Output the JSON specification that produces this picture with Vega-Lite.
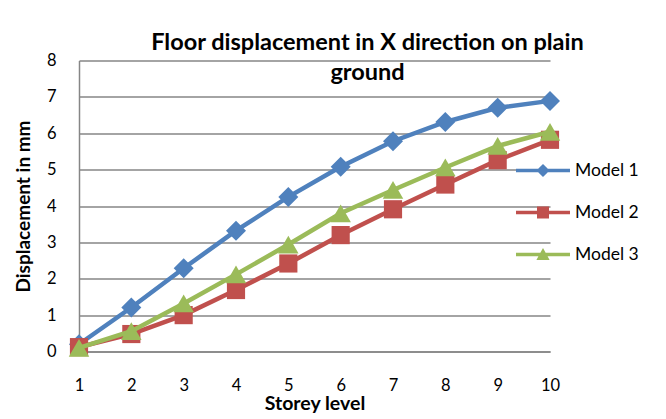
{
  "$schema": "https://vega.github.io/schema/vega-lite/v6.json",
  "width": 471,
  "height": 291,
  "autosize": {"type": "none"},
  "padding": {"left": 79, "top": 60.5, "right": 116, "bottom": 67.5},
  "background": "white",
  "config": {
    "font": "Lato",
    "view": {"stroke": null},
    "axis": {"labelFont": "Lato", "titleFont": "Lato", "labelColor": "black", "titleColor": "black"}
  },
  "title": {
    "text": ["Floor displacement in X direction on plain", "ground"],
    "font": "Lato",
    "fontSize": 23.5,
    "fontWeight": "bold",
    "color": "black",
    "lineHeight": 30,
    "anchor": "middle",
    "dx": 53,
    "offset": -32
  },
  "data": {
    "values": [
      {"storey": 1, "model": "Model 1", "disp": 0.2},
      {"storey": 2, "model": "Model 1", "disp": 1.21},
      {"storey": 3, "model": "Model 1", "disp": 2.29},
      {"storey": 4, "model": "Model 1", "disp": 3.32},
      {"storey": 5, "model": "Model 1", "disp": 4.25},
      {"storey": 6, "model": "Model 1", "disp": 5.08},
      {"storey": 7, "model": "Model 1", "disp": 5.78},
      {"storey": 8, "model": "Model 1", "disp": 6.31},
      {"storey": 9, "model": "Model 1", "disp": 6.7},
      {"storey": 10, "model": "Model 1", "disp": 6.89},
      {"storey": 1, "model": "Model 2", "disp": 0.12},
      {"storey": 2, "model": "Model 2", "disp": 0.48},
      {"storey": 3, "model": "Model 2", "disp": 1.0},
      {"storey": 4, "model": "Model 2", "disp": 1.69},
      {"storey": 5, "model": "Model 2", "disp": 2.42},
      {"storey": 6, "model": "Model 2", "disp": 3.2},
      {"storey": 7, "model": "Model 2", "disp": 3.91},
      {"storey": 8, "model": "Model 2", "disp": 4.59},
      {"storey": 9, "model": "Model 2", "disp": 5.26},
      {"storey": 10, "model": "Model 2", "disp": 5.82},
      {"storey": 1, "model": "Model 3", "disp": 0.1},
      {"storey": 2, "model": "Model 3", "disp": 0.56},
      {"storey": 3, "model": "Model 3", "disp": 1.32},
      {"storey": 4, "model": "Model 3", "disp": 2.12},
      {"storey": 5, "model": "Model 3", "disp": 2.94},
      {"storey": 6, "model": "Model 3", "disp": 3.8},
      {"storey": 7, "model": "Model 3", "disp": 4.44},
      {"storey": 8, "model": "Model 3", "disp": 5.06},
      {"storey": 9, "model": "Model 3", "disp": 5.65},
      {"storey": 10, "model": "Model 3", "disp": 6.04}
    ]
  },
  "encoding": {
    "x": {
      "field": "storey",
      "type": "quantitative",
      "scale": {"domain": [1, 10], "nice": false, "zero": false},
      "axis": {
        "title": "Storey level",
        "titleFontSize": 19.5,
        "titleFontWeight": "bold",
        "titlePadding": 0,
        "values": [1, 2, 3, 4, 5, 6, 7, 8, 9, 10],
        "format": "d",
        "labelFontSize": 16.5,
        "labelPadding": 26,
        "ticks": false,
        "grid": false,
        "domain": true,
        "domainColor": "#868686",
        "domainWidth": 1.5,
        "labelFlush": false
      }
    },
    "y": {
      "field": "disp",
      "type": "quantitative",
      "scale": {"domain": [0, 8], "nice": false},
      "axis": {
        "title": "Displacement in mm",
        "titleFontSize": 19,
        "titleFontWeight": "bold",
        "titlePadding": 13,
        "values": [0, 1, 2, 3, 4, 5, 6, 7, 8],
        "labelFontSize": 16.5,
        "labelPadding": 23,
        "ticks": false,
        "grid": true,
        "gridColor": "#868686",
        "gridWidth": 1.4,
        "domain": true,
        "domainColor": "#868686",
        "domainWidth": 1.5
      }
    },
    "color": {
      "field": "model",
      "type": "nominal",
      "scale": {"domain": ["Model 1", "Model 2", "Model 3"], "range": ["#4F81BD", "#C0504D", "#9BBB59"]},
      "legend": {
        "title": null,
        "orient": "none",
        "legendX": 452,
        "legendY": 98,
        "padding": 0,
        "labelFontSize": 17.5,
        "labelFont": "Lato",
        "labelColor": "black",
        "labelOffset": 20,
        "rowPadding": 21,
        "symbolSize": 576,
        "symbolOpacity": 1,
        "symbolStrokeWidth": 0
      }
    }
  },
  "layer": [
    {
      "transform": [{"filter": "datum.model === 'Model 1'"}],
      "mark": {"type": "line", "strokeWidth": 4.5, "clip": false,
        "point": {"shape": "diamond", "size": 400, "filled": true, "opacity": 1}}
    },
    {
      "transform": [{"filter": "datum.model === 'Model 2'"}],
      "mark": {"type": "line", "strokeWidth": 4.5, "clip": false,
        "point": {"shape": "square", "size": 330, "filled": true, "opacity": 1}}
    },
    {
      "transform": [{"filter": "datum.model === 'Model 3'"}],
      "mark": {"type": "line", "strokeWidth": 4.5, "clip": false,
        "point": {"shape": "triangle-up", "size": 420, "filled": true, "opacity": 1}}
    },
    {
      "mark": {"type": "point", "filled": true, "opacity": 0, "size": 576},
      "encoding": {
        "shape": {
          "field": "model",
          "type": "nominal",
          "scale": {
            "domain": ["Model 1", "Model 2", "Model 3"],
            "range": [
              "M-2.25,-0.14H2.25V0.14H-2.25Z M0,-0.55L0.55,0L0,0.55L-0.55,0Z",
              "M-2.25,-0.14H2.25V0.14H-2.25Z M-0.5,-0.5H0.5V0.5H-0.5Z",
              "M-2.25,-0.14H2.25V0.14H-2.25Z M0,-0.55L0.55,0.45H-0.55Z"
            ]
          },
          "legend": null
        }
      }
    }
  ]
}
